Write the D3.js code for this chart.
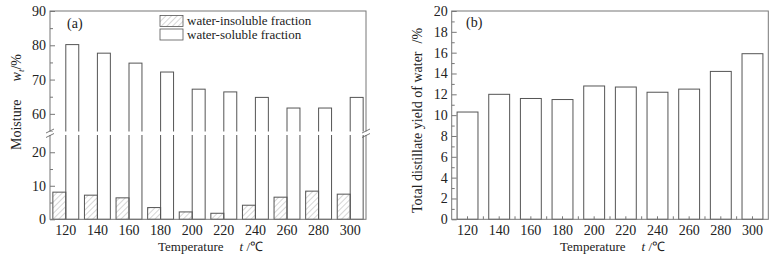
<!DOCTYPE html>
<html>
<head>
<meta charset="utf-8">
<script src="https://cdn.jsdelivr.net/npm/d3@7"></script>
<style>
  body { margin: 0; background: #fff; }
  text { font-family: "Liberation Serif", "Times New Roman", serif; fill: #222; }
</style>
</head>
<body>
<div id="chart"></div>
<script>
//// data
var temps = [120, 140, 160, 180, 200, 220, 240, 260, 280, 300];
var insoluble = [8.1, 7.2, 6.4, 3.5, 2.2, 1.8, 4.2, 6.6, 8.4, 7.5];
var soluble = [80.2, 77.7, 74.8, 72.2, 67.2, 66.4, 64.8, 61.7, 61.7, 64.8];
var distillate = [10.3, 12.0, 11.6, 11.5, 12.8, 12.7, 12.2, 12.5, 14.2, 15.9];
var upperTicks = [60, 70, 80, 90], upperMinor = [55, 65, 75, 85];
var lowerTicks = [0, 10, 20], lowerMinor = [5, 15];
var bTicks = [0, 2, 4, 6, 8, 10, 12, 14, 16, 18, 20];

var svg = d3.select("#chart").append("svg")
  .attr("width", 780).attr("height", 258);

var defs = svg.append("defs");
var pat = defs.append("pattern")
  .attr("id", "hatch").attr("patternUnits", "userSpaceOnUse")
  .attr("width", 4).attr("height", 4)
  .attr("patternTransform", "rotate(45)");
pat.append("line").attr("x1", 0).attr("y1", 0).attr("x2", 0).attr("y2", 4)
  .attr("stroke", "#999").attr("stroke-width", 0.8);

var barStroke = "#555", frameStroke = "#777";

//// chart (a)
var A = {left: 50, right: 366, top: 11, bottom: 219.3};
var xa = d3.scaleBand().domain(temps).range([A.left, A.right])
  .paddingInner(0.18).paddingOuter(0.09);
var yUp = d3.scaleLinear().domain([55, 90]).range([131, A.top]);
var yLow = d3.scaleLinear().domain([0, 25]).range([A.bottom, 135.5]);
var bw = xa.bandwidth() / 2;

var ga = svg.append("g");

// soluble bars (full height, gap cut later)
ga.selectAll(".sol").data(temps).enter().append("rect")
  .attr("x", function(d) { return xa(d) + bw; })
  .attr("y", function(d, i) { return yUp(soluble[i]); })
  .attr("width", bw)
  .attr("height", function(d, i) { return A.bottom - yUp(soluble[i]); })
  .attr("fill", "#fff").attr("stroke", barStroke).attr("stroke-width", 1);

// insoluble bars
ga.selectAll(".ins").data(temps).enter().append("rect")
  .attr("x", function(d) { return xa(d); })
  .attr("y", function(d, i) { return yLow(insoluble[i]); })
  .attr("width", bw)
  .attr("height", function(d, i) { return A.bottom - yLow(insoluble[i]); })
  .attr("fill", "url(#hatch)").attr("stroke", barStroke).attr("stroke-width", 1);

// frame
ga.append("rect").attr("x", A.left).attr("y", A.top)
  .attr("width", A.right - A.left).attr("height", A.bottom - A.top)
  .attr("fill", "none").attr("stroke", frameStroke).attr("stroke-width", 1);

// axes
ga.append("g").attr("transform", "translate(" + A.left + ",0)")
  .call(d3.axisLeft(yUp).tickValues(upperTicks).tickSize(-5).tickPadding(4))
  .call(function(g) { g.select(".domain").remove(); });
ga.append("g").attr("transform", "translate(" + A.left + ",0)")
  .call(d3.axisLeft(yUp).tickValues(upperMinor).tickSize(-3).tickFormat(""))
  .call(function(g) { g.select(".domain").remove(); });
ga.append("g").attr("transform", "translate(" + A.left + ",0)")
  .call(d3.axisLeft(yLow).tickValues(lowerTicks).tickSize(-5).tickPadding(4))
  .call(function(g) { g.select(".domain").remove(); });
ga.append("g").attr("transform", "translate(" + A.left + ",0)")
  .call(d3.axisLeft(yLow).tickValues(lowerMinor).tickSize(-3).tickFormat(""))
  .call(function(g) { g.select(".domain").remove(); });
ga.append("g").attr("transform", "translate(0," + A.bottom + ")")
  .call(d3.axisBottom(xa).tickSize(0).tickPadding(6))
  .call(function(g) { g.select(".domain").remove(); });

ga.selectAll(".tick text").attr("font-size", 14)
  .style("font-family", "Liberation Serif").attr("fill", "#222");
ga.selectAll(".tick line").attr("stroke", frameStroke);

// axis break
var gapTop = yUp(55), gapBot = yLow(25);
ga.append("rect").attr("x", A.left - 1).attr("y", gapTop + 0.5)
  .attr("width", A.right - A.left + 2).attr("height", gapBot - gapTop - 1)
  .attr("fill", "#fff");
[A.left, A.right].forEach(function(x) {
  [gapTop, gapBot].forEach(function(y) {
    ga.append("line").attr("x1", x - 4).attr("y1", y + 2).attr("x2", x + 4).attr("y2", y - 2)
      .attr("stroke", "#555").attr("stroke-width", 0.8);
  });
});

// legend
var leg = [{name: "water-insoluble fraction", fill: "url(#hatch)"},
           {name: "water-soluble fraction", fill: "#fff"}];
leg.forEach(function(l, i) {
  ga.append("rect").attr("x", 160).attr("y", 15.5 + i * 13.5)
    .attr("width", 23).attr("height", 11)
    .attr("fill", l.fill).attr("stroke", barStroke).attr("stroke-width", 0.8);
  ga.append("text").attr("x", 187).attr("y", 25 + i * 13.5)
    .attr("font-size", 13).text(l.name);
});

ga.append("text").attr("x", 67).attr("y", 28).attr("font-size", 14).text("(a)");

// titles
var ta = ga.append("text").attr("transform", "translate(21,150) rotate(-90)")
  .attr("font-size", 14);
ta.append("tspan").text("Moisture");
ta.append("tspan").attr("dx", 18).attr("font-style", "italic").text("w");
ta.append("tspan").attr("font-style", "italic").attr("font-size", 9).attr("dy", 3).text("t");
ta.append("tspan").attr("dy", -3).text("/%");

var xta = ga.append("text").attr("x", 158).attr("y", 251).attr("font-size", 13);
xta.append("tspan").text("Temperature");
xta.append("tspan").attr("dx", 16).attr("font-style", "italic").text("t");
xta.append("tspan").text(" /\u2103");

//// chart (b)
var B = {left: 451.7, right: 768.3, top: 11, bottom: 219.3};
var xb = d3.scaleBand().domain(temps).range([B.left, B.right])
  .paddingInner(0.34).paddingOuter(0.17);
var yb = d3.scaleLinear().domain([0, 20]).range([B.bottom, B.top]);

var gb = svg.append("g");

gb.selectAll(".bar").data(temps).enter().append("rect")
  .attr("x", function(d) { return xb(d); })
  .attr("y", function(d, i) { return yb(distillate[i]); })
  .attr("width", xb.bandwidth())
  .attr("height", function(d, i) { return B.bottom - yb(distillate[i]); })
  .attr("fill", "#fff").attr("stroke", barStroke).attr("stroke-width", 1);

gb.append("rect").attr("x", B.left).attr("y", B.top)
  .attr("width", B.right - B.left).attr("height", B.bottom - B.top)
  .attr("fill", "none").attr("stroke", frameStroke).attr("stroke-width", 1);

gb.append("g").attr("transform", "translate(" + B.left + ",0)")
  .call(d3.axisLeft(yb).tickValues(bTicks).tickSize(-5).tickPadding(4))
  .call(function(g) { g.select(".domain").remove(); });
gb.append("g").attr("transform", "translate(" + B.left + ",0)")
  .call(d3.axisLeft(yb).tickValues(d3.range(1, 20, 2)).tickSize(-3).tickFormat(""))
  .call(function(g) { g.select(".domain").remove(); });
gb.append("g").attr("transform", "translate(0," + B.bottom + ")")
  .call(d3.axisBottom(xb).tickSize(-3).tickPadding(6))
  .call(function(g) { g.select(".domain").remove(); });
// boundary ticks between categories
gb.append("g").selectAll("line").data(temps.slice(1)).enter().append("line")
  .attr("x1", function(d) { return xb(d) - xb.step() * xb.paddingInner() / 2; })
  .attr("x2", function(d) { return xb(d) - xb.step() * xb.paddingInner() / 2; })
  .attr("y1", B.bottom).attr("y2", B.bottom - 3)
  .attr("stroke", frameStroke);

gb.selectAll(".tick text").attr("font-size", 14)
  .style("font-family", "Liberation Serif").attr("fill", "#222");
gb.selectAll(".tick line").attr("stroke", frameStroke);

gb.append("text").attr("x", 466).attr("y", 27).attr("font-size", 14).text("(b)");

var tb = gb.append("text").attr("transform", "translate(422,213) rotate(-90)")
  .attr("font-size", 14);
tb.append("tspan").text("Total distillate yield of water");
tb.append("tspan").attr("dx", 8).text("/%");

var xtb = gb.append("text").attr("x", 560).attr("y", 251).attr("font-size", 13);
xtb.append("tspan").text("Temperature");
xtb.append("tspan").attr("dx", 16).attr("font-style", "italic").text("t");
xtb.append("tspan").text(" /\u2103");
</script>
</body>
</html>
